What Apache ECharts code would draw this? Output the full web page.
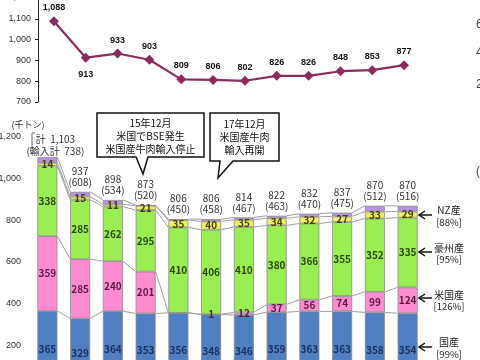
<!DOCTYPE html>
<html><head><meta charset="utf-8">
<script src="https://cdn.jsdelivr.net/npm/echarts@6/dist/echarts.min.js"></script>
<style>html,body{margin:0;padding:0;background:#fff}#c{width:480px;height:360px}</style>
</head><body><div id="c"></div>
<script>
const categories = ['H12','H13','H14','H15','H16','H17','H18','H19','H20','H21','H22','H23'];
const supplyLine = [1088,913,933,903,809,806,802,826,826,848,853,877];
const domestic  = [365,329,364,353,356,348,346,359,363,363,358,354];
const usa       = [359,285,240,201,0,1,12,37,56,74,99,124];
const australia = [338,285,262,295,410,406,410,380,366,355,352,335];
const nz        = [14,15,11,21,35,40,35,34,32,27,33,29];
const others    = [27,23,21,3,5,11,11,12,15,18,28,28];
const totals    = [1103,937,898,873,806,806,814,822,832,837,870,870];
const imports   = [738,608,534,520,450,458,467,463,470,475,512,516];
const legendNames = ['NZ産','豪州産','米国産','国産'];
const legendPct   = ['[88%]','[95%]','[126%]','[99%]'];

const JP = '"Noto Sans CJK JP", sans-serif';
const AR = '"Liberation Sans", Arial, sans-serif';
function fmt(v){ return String(v).replace(/\B(?=(\d{3})+(?!\d))/g, ','); }

const segSeries = [
  {name:'国産', data:domestic, color:'#4f7fc2', lc:'#1c2f5e'},
  {name:'米国産', data:usa, color:'#ff8bd0', lc:'#5a1840'},
  {name:'豪州産', data:australia, color:'#9bee52', lc:'#2a4510'},
  {name:'NZ産', data:nz, color:'#eef062', lc:'#444000'},
];

const levels = [];
let acc = categories.map(()=>0);
[domestic, usa, australia, nz, others].forEach(arr=>{
  acc = acc.map((v,i)=>v+arr[i]);
  levels.push(acc.slice());
});

const series = [];
series.push({
  type:'custom', xAxisIndex:1, yAxisIndex:1, z:1, silent:true,
  data: categories.slice(0,-1).map((c,i)=>[i,0]),
  renderItem(params, api){
    const i = api.value(0);
    const children = levels.map(lv=>{
      const a = api.coord([i, lv[i]]);
      const b = api.coord([i+1, lv[i+1]]);
      return {type:'line', shape:{x1:a[0]+10,y1:a[1],x2:b[0]-10,y2:b[1]}, style:{stroke:'#a0a0a0',lineWidth:1}};
    });
    return {type:'group', children};
  }
});
segSeries.forEach(s=>{
  series.push({
    type:'bar', name:s.name, stack:'a', xAxisIndex:1, yAxisIndex:1, barWidth:20, z:3,
    data:s.data,
    itemStyle:{color:s.color, borderColor:'#8a8a8a', borderWidth:0.8},
    label:{show:true, position:'inside', formatter:p=>p.value?String(p.value):'',
      fontSize:10, fontWeight:'bold', color:s.lc, fontFamily:JP}
  });
});
series.push({
  type:'bar', name:'その他', stack:'a', xAxisIndex:1, yAxisIndex:1, barWidth:20, z:3,
  data: others.map((v,i)=> i===0 ? {value:v, label:{offset:[8,4], lineHeight:12}} : v),
  itemStyle:{color:'#b793e8', borderColor:'#8a8a8a', borderWidth:0.8},
  label:{show:true, position:'top', distance:4, lineHeight:11, fontSize:10, color:'#333', fontFamily:JP,
    formatter:p=>{
      const i=p.dataIndex;
      if(i===0) return '計  '+fmt(totals[0])+'\n(輸入計  '+imports[0]+')';
      return totals[i]+'\n('+imports[i]+')';
    }}
});
series.push({
  type:'line', xAxisIndex:0, yAxisIndex:0, z:5,
  data: supplyLine.map((v,i)=> i===1 ? {value:v, label:{position:'bottom', distance:7}} : v),
  symbol:'diamond', symbolSize:10,
  lineStyle:{color:'#8c2b5e', width:2.2}, itemStyle:{color:'#8c2b5e'},
  label:{show:true, position:'top', distance:4, fontSize:9, fontWeight:'bold', color:'#111', fontFamily:AR,
    formatter:p=>fmt(p.value)}
});

const graphics = [];
graphics.push({type:'polygon', z:10, shape:{points:[[97,113],[204,113],[204,157],[148,157],[143,174],[136,157],[97,157]]},
  style:{fill:'#fff', stroke:'#111', lineWidth:1.5}});
graphics.push({type:'polygon', z:10, shape:{points:[[210,113],[279,113],[279,161],[233,161],[218,178],[220,161],[210,161]]},
  style:{fill:'#fff', stroke:'#111', lineWidth:1.5}});
function txt(t,x,y,size,opts){
  opts=opts||{};
  return {type:'text', z:11, style:Object.assign({text:t, x:x, y:y, fill:opts.fill||'#222',
    font:(opts.weight||'normal')+' '+size+'px '+(opts.family||JP),
    textAlign:opts.align||'center', align:opts.align||'center',
    textVerticalAlign:'middle', verticalAlign:'middle', lineHeight:opts.lh||size+3})};
}
graphics.push(txt('15年12月\n米国でBSE発生\n米国産牛肉輸入停止',150.5,136,10,{lh:13,fill:'#111'}));
graphics.push(txt('17年12月\n米国産牛肉\n輸入再開',244.5,137,10,{lh:13,fill:'#111'}));
graphics.push(txt('(千トン)',28,125,9,{fill:'#333'}));
graphics.push({type:'polyline', z:11, shape:{points:[[35,133],[32,133],[32,146]]}, style:{stroke:'#666',lineWidth:1,fill:null}});
const legY = [[210,222,215],[248,259,252],[295,306,298],[342,354,347]];
legendNames.forEach((n,k)=>{
  graphics.push(txt(n,449,legY[k][0],10,{fill:'#222'}));
  graphics.push(txt(legendPct[k],449,legY[k][1],9.5,{fill:'#222'}));
  const y=legY[k][2];
  graphics.push({type:'polyline', z:11, shape:{points:[[432,y],[419,y]]}, style:{stroke:'#111',lineWidth:1.5}});
  graphics.push({type:'polyline', z:11, shape:{points:[[425,y-4],[419,y],[425,y+4]]}, style:{stroke:'#111',lineWidth:1.5,fill:null}});
});
[['6',25],['4',53],['2',85],['(',172]].forEach(g=>{
  graphics.push(txt(g[0],476,g[1],12,{align:'left',fill:'#444',family:AR}));
});

const chart = echarts.init(document.getElementById('c'), null, {renderer:'canvas'});
chart.setOption({
  animation:false,
  backgroundColor:'#fff',
  grid:[
    {left:38, top:-2, width:382, height:104, containLabel:false, outerBoundsMode:'none'},
    {left:31, top:137, width:393, height:250, containLabel:false, outerBoundsMode:'none'}
  ],
  xAxis:[
    {type:'category', gridIndex:0, data:categories, axisLine:{show:false}, axisTick:{show:false}, axisLabel:{show:false}},
    {type:'category', gridIndex:1, data:categories, axisLine:{show:false}, axisTick:{show:false}, axisLabel:{show:false}}
  ],
  yAxis:[
    {type:'value', gridIndex:0, min:700, max:1200, interval:100,
      axisLine:{show:true, lineStyle:{color:'#222', width:1}}, axisTick:{show:true, length:3, lineStyle:{color:'#222'}},
      splitLine:{show:false},
      axisLabel:{fontSize:9, color:'#333', margin:7, fontFamily:AR, formatter:v=>fmt(v), showMaxLabel:true, showMinLabel:true}},
    {type:'value', gridIndex:1, min:0, max:1200, interval:200,
      axisLine:{show:false}, axisTick:{show:false},
      splitLine:{show:false},
      axisLabel:{fontSize:9, color:'#333', margin:10, fontFamily:AR, formatter:v=>fmt(v), showMaxLabel:true, showMinLabel:true, hideOverlap:false}}
  ],
  series: series,
  graphic: graphics
});
</script>
</body></html>
